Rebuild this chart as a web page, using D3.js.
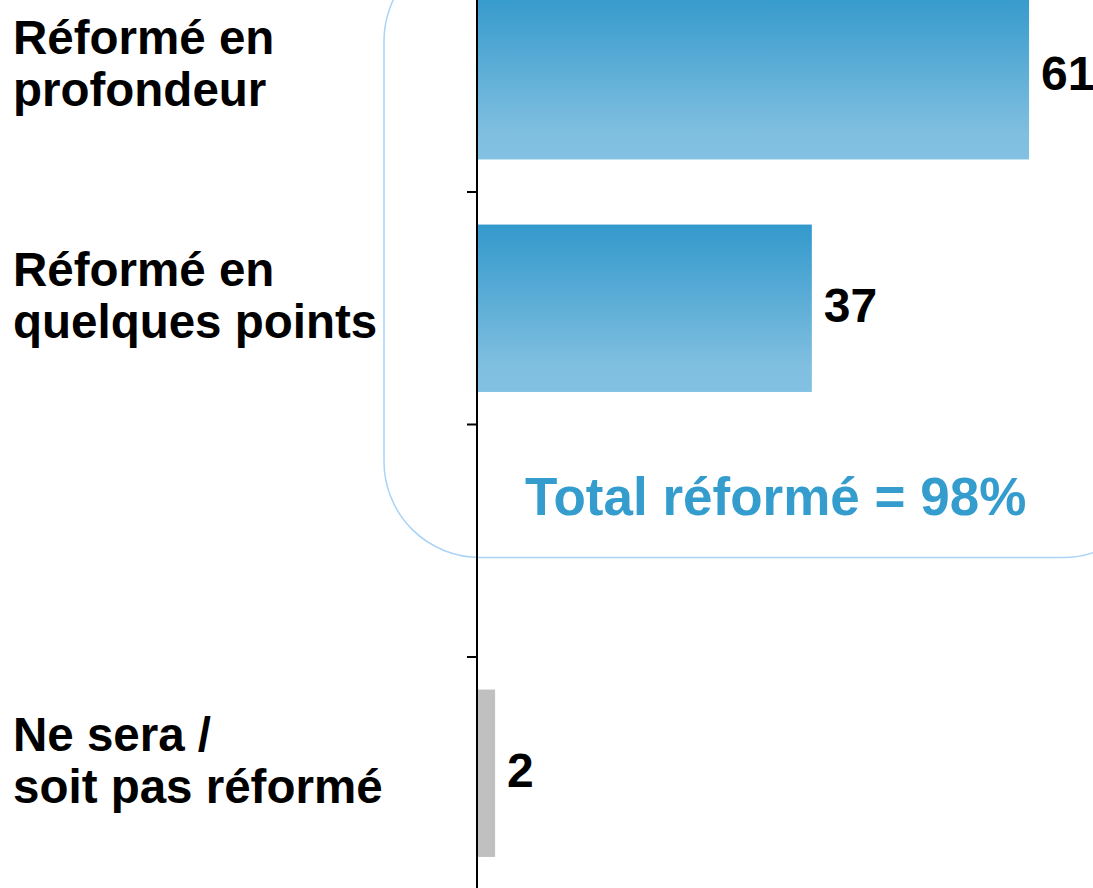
<!DOCTYPE html>
<html>
<head>
<meta charset="utf-8">
<script src="https://cdn.jsdelivr.net/npm/d3@7"></script>
<style>
  body { margin: 0; background: #fff; }
  svg { display: block; }
  text { font-family: Arial, "Liberation Sans", Helvetica, sans-serif; font-weight: bold; }
</style>
</head>
<body>
<script>
'use strict';

// categories (one empty slot between the reformed group and the rest)
let categories = ["profondeur", "quelques", "", "pas"];
let labelLines = [
  ["Réformé en", "profondeur"],
  ["Réformé en", "quelques points"],
  [],
  ["Ne sera /", "soit pas réformé"]
];
let values = [61, 37, null, 2];
let reformed = ["profondeur", "quelques"];

// size of the picture
let width = 1093, height = 888;
let axisX = 477;

let svgContainer = d3.select("body")
  .append("svg")
  .attr("width", width)
  .attr("height", height);

// scales
let xScale = d3.scaleLinear()
  .domain([0, 100])
  .range([axisX, axisX + 905]);

let yScale = d3.scaleBand()
  .domain(categories)
  .range([-40.5, 889.5])
  .paddingInner(0.28)
  .paddingOuter(0.14);

// gradient for the blue bars
let defs = svgContainer.append("defs");
let grad = defs.append("linearGradient")
  .attr("id", "blueGrad")
  .attr("x1", 0).attr("y1", 0)
  .attr("x2", 0).attr("y2", 1);
grad.append("stop").attr("offset", "0%").attr("stop-color", "#3399cc");
grad.append("stop").attr("offset", "85%").attr("stop-color", "#80bfe0");
grad.append("stop").attr("offset", "100%").attr("stop-color", "#82c1e1");

// rounded box around the reformed group
let boxTop = yScale(reformed[0]) - 47;
let boxBottom = yScale(categories[2]) + yScale.bandwidth() * 0.6;
svgContainer.append("rect")
  .attr("x", 384)
  .attr("y", boxTop)
  .attr("width", 775)
  .attr("height", boxBottom - boxTop)
  .attr("rx", 96)
  .attr("ry", 96)
  .attr("fill", "none")
  .attr("stroke", "#a9d3f7")
  .attr("stroke-width", 1.5);

let data = categories.map((c, i) => ({ cat: c, value: values[i], lines: labelLines[i] }))
  .filter(d => d.value !== null);

// bars
svgContainer.selectAll(".bar")
  .data(data)
  .enter()
  .append("rect")
  .attr("class", "bar")
  .attr("x", xScale(0) + 1)
  .attr("y", d => yScale(d.cat))
  .attr("width", d => xScale(d.value) - xScale(0) - 1)
  .attr("height", yScale.bandwidth())
  .attr("fill", d => reformed.includes(d.cat) ? "url(#blueGrad)" : "#c0c0c0");

// value labels
svgContainer.selectAll(".val")
  .data(data)
  .enter()
  .append("text")
  .attr("class", "val")
  .attr("x", d => xScale(d.value) + 12)
  .attr("y", d => yScale(d.cat) + yScale.bandwidth() / 2 + 14)
  .style("font-size", "48px")
  .attr("fill", "#000")
  .text(d => d.value);

// category labels
let labels = svgContainer.selectAll(".cat")
  .data(data)
  .enter()
  .append("text")
  .attr("class", "cat")
  .style("font-size", "47.5px")
  .attr("fill", "#000");

labels.selectAll("tspan")
  .data(d => d.lines.map((l, j) => ({ line: l, j: j, cat: d.cat })))
  .enter()
  .append("tspan")
  .attr("x", 13)
  .attr("y", t => yScale(t.cat) + yScale.bandwidth() / 2 - 22 + t.j * 52)
  .text(t => t.line);

// total label
let total = d3.sum(data.filter(d => reformed.includes(d.cat)), d => d.value);
svgContainer.append("text")
  .attr("x", xScale(33))
  .attr("y", yScale(categories[2]) + 58)
  .attr("text-anchor", "middle")
  .style("font-size", "53px")
  .attr("fill", "#359dce")
  .text("Total réformé = " + total + "%");

// vertical axis line and ticks between bands
svgContainer.append("line")
  .attr("x1", axisX).attr("x2", axisX)
  .attr("y1", 0).attr("y2", height)
  .attr("stroke", "#000")
  .attr("stroke-width", 2);

let tickYs = categories.slice(1).map(c => yScale(c) - yScale.step() * yScale.paddingInner() / 2);
svgContainer.selectAll(".tick")
  .data(tickYs)
  .enter()
  .append("line")
  .attr("class", "tick")
  .attr("x1", axisX - 10).attr("x2", axisX)
  .attr("y1", d => d).attr("y2", d => d)
  .attr("stroke", "#000")
  .attr("stroke-width", 2);
</script>
</body>
</html>
